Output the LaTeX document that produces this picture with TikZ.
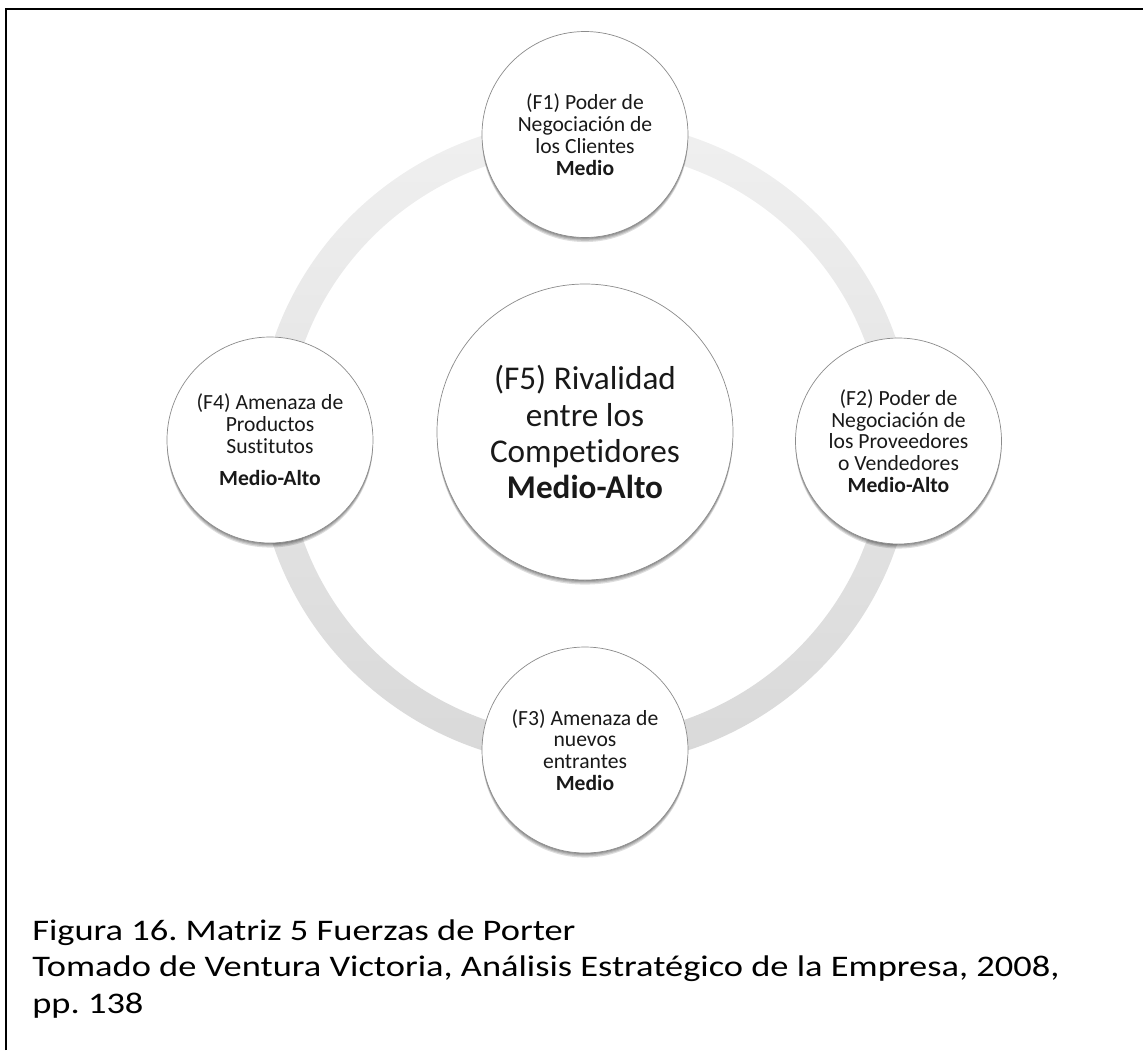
\documentclass[tikz,border=0pt]{standalone}
\usepackage{fontspec}
\setmainfont{Carlito}[Ligatures=NoCommon]
\newfontfamily\piefont{Carlito}[Ligatures=NoCommon, FakeStretch=1.22]
\frenchspacing
\usetikzlibrary{positioning}

\tikzset{
  sombra/.style={preaction={fill=black, opacity=0.13,
    transform canvas={yshift=-#1}}},
  fuerza/.style={circle, draw=gray!90, line width=0.4pt, fill=white,
    minimum size=4.12cm, inner sep=0pt, align=center, text=black!90,
    font=\fontsize{12.3}{12.4}\selectfont,
    sombra=0.6pt, sombra=1.2pt, sombra=1.9pt, sombra=2.6pt},
  rivalidad/.style={fuerza, minimum size=5.92cm,
    font=\fontsize{18.9}{20.5}\selectfont},
  pie/.style={anchor=base west, inner sep=0pt, text=black,
    font=\piefont\fontsize{17}{20.8}\selectfont},
}

\begin{document}
\begin{tikzpicture}
  \useasboundingbox (-11.70,-12.14) rectangle (11.16,8.86);
  % marco
  \draw[line width=0.04cm] (-11.57,-12.14) -- (-11.57,8.69) -- (11.16,8.69);
  % anillo gris que une las fuerzas
  \shade[top color=gray!12, bottom color=gray!30, even odd rule]
    (0,0) ellipse (6.57 and 6.47) (0,0) ellipse (5.97 and 5.87);
  % las cinco fuerzas
  \node[rivalidad] (f5) at (0,0.22)
    {(F5) Rivalidad\\entre los\\Competidores\\\textbf{Medio-Alto}};
  \node[fuerza] (f1) at (0,6.17)
    {(F1) Poder de\\Negociación de\\los Clientes\\\textbf{Medio}};
  \node[fuerza] (f2) at (6.27,0.04)
    {(F2) Poder de\\Negociación de\\los Proveedores\\o Vendedores\\\textbf{Medio-Alto}};
  \node[fuerza] (f3) at (0,-6.14)
    {(F3) Amenaza de\\nuevos\\entrantes\\\textbf{Medio}};
  \node[fuerza] (f4) at (-6.3,0.06)
    {(F4) Amenaza de\\Productos\\Sustitutos\\[6pt]\textbf{Medio-Alto}};
  % pie de figura
  \node[pie] (pie1) at (-11.06,-9.94) {Figura 16. Matriz 5 Fuerzas de Porter};
  \node[pie] (pie2) at ([yshift=-0.73cm]pie1.base west)
    {Tomado de Ventura Victoria, Análisis Estratégico de la Empresa, 2008,};
  \node[pie] (pie3) at ([yshift=-0.73cm]pie2.base west) {pp. 138};
\end{tikzpicture}
\end{document}
